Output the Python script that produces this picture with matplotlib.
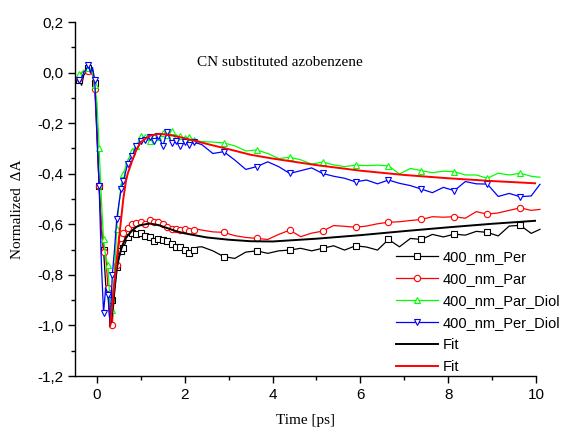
import matplotlib
matplotlib.use("Agg")
import matplotlib.pyplot as plt
from matplotlib.ticker import MultipleLocator, FuncFormatter

plt.rcParams['font.family'] = ['Liberation Sans', 'DejaVu Sans']

# time axis (ps): fine sampling round time zero, coarse afterwards
t_early = [-0.43, -0.40, -0.35, -0.30, -0.25, -0.20, -0.15, -0.10, -0.05, 0.00,
           0.05, 0.10, 0.15, 0.20, 0.25, 0.30, 0.35, 0.40, 0.45, 0.50, 0.55, 0.60,
           0.70, 0.80, 0.90, 1.00, 1.10, 1.20, 1.30, 1.40, 1.50, 1.60, 1.70, 1.80,
           1.90, 2.00, 2.10, 2.20, 2.30]
t_late = [2.39, 2.64, 2.89, 3.14, 3.39, 3.64, 3.89, 4.14, 4.39, 4.64, 4.89, 5.14,
          5.39, 5.64, 5.89, 6.14, 6.39, 6.64, 6.89, 7.14, 7.39, 7.64, 7.89, 8.14,
          8.39, 8.64, 8.89, 9.14, 9.39, 9.64, 9.89, 10.09]
t = t_early + t_late

per = [-0.02, -0.03, -0.05, -0.01, 0.00, 0.02, 0.00, 0.01, -0.04, -0.22,
       -0.45, -0.62, -0.70, -0.84, -0.86, -1.00, -0.90, -0.82, -0.77, -0.735, -0.705, -0.695,
       -0.650, -0.636, -0.640, -0.633, -0.645, -0.652, -0.668, -0.660, -0.662, -0.668, -0.678, -0.690,
       -0.688, -0.700, -0.715, -0.700, -0.690,
       -0.689, -0.705, -0.728, -0.735, -0.710, -0.705, -0.715, -0.705, -0.702, -0.695, -0.705, -0.695,
       -0.685, -0.702, -0.685, -0.690, -0.702, -0.660, -0.689, -0.656, -0.660, -0.640, -0.650, -0.639,
       -0.643, -0.628, -0.632, -0.646, -0.607, -0.604, -0.636, -0.620]
par = [-0.03, -0.02, 0.00, 0.005, 0.01, 0.005, 0.00, -0.01, -0.065, -0.25,
       -0.45, -0.60, -0.71, -0.72, -0.85, -0.97, -1.00, -0.86, -0.76, -0.68, -0.655, -0.635,
       -0.615, -0.600, -0.596, -0.590, -0.600, -0.585, -0.590, -0.590, -0.600, -0.612, -0.618, -0.620,
       -0.623, -0.620, -0.625, -0.623, -0.620,
       -0.623, -0.630, -0.632, -0.645, -0.652, -0.656, -0.660, -0.640, -0.623, -0.649, -0.635, -0.627,
       -0.605, -0.608, -0.612, -0.607, -0.598, -0.592, -0.590, -0.585, -0.581, -0.570, -0.572, -0.570,
       -0.576, -0.550, -0.560, -0.555, -0.545, -0.535, -0.545, -0.541]
par_diol = [-0.01, -0.005, 0.00, 0.01, 0.005, 0.02, 0.01, 0.00, -0.05, -0.12,
            -0.30, -0.50, -0.66, -0.73, -0.76, -0.92, -0.94, -0.80, -0.62, -0.52, -0.45, -0.40,
            -0.350, -0.310, -0.290, -0.250, -0.255, -0.270, -0.250, -0.255, -0.240, -0.245, -0.232, -0.255,
            -0.250, -0.260, -0.255, -0.265, -0.270,
            -0.273, -0.275, -0.278, -0.290, -0.310, -0.306, -0.320, -0.340, -0.335, -0.345, -0.362, -0.354,
            -0.365, -0.372, -0.366, -0.368, -0.366, -0.369, -0.401, -0.379, -0.388, -0.396, -0.390, -0.392,
            -0.405, -0.405, -0.418, -0.398, -0.405, -0.398, -0.410, -0.414]
per_diol = [-0.02, -0.03, -0.02, 0.00, 0.01, 0.03, 0.00, 0.02, -0.03, -0.25,
            -0.45, -0.75, -0.95, -0.85, -0.88, -1.00, -0.80, -0.70, -0.58, -0.52, -0.46, -0.43,
            -0.360, -0.330, -0.290, -0.270, -0.265, -0.255, -0.270, -0.250, -0.290, -0.235, -0.280, -0.270,
            -0.290, -0.275, -0.285, -0.275, -0.280,
            -0.285, -0.320, -0.313, -0.346, -0.383, -0.372, -0.353, -0.372, -0.399, -0.388, -0.377, -0.399,
            -0.410, -0.418, -0.432, -0.425, -0.440, -0.425, -0.438, -0.447, -0.461, -0.475, -0.454, -0.467,
            -0.431, -0.440, -0.441, -0.490, -0.478, -0.491, -0.488, -0.442]

# fitted curves
t_fit = [0.30, 0.35, 0.40, 0.45, 0.50, 0.55, 0.60, 0.66, 0.70, 0.80, 0.90, 1.00, 1.20,
         1.40, 1.60, 1.80, 2.00, 2.50, 3.00, 3.50, 4.00, 5.00, 6.00, 7.00, 8.00, 9.00, 10.00]
fit_per = [-1.00, -0.95, -0.86, -0.78, -0.73, -0.70, -0.675, -0.655, -0.645, -0.625, -0.610,
           -0.603, -0.597, -0.603, -0.615, -0.627, -0.636, -0.652, -0.661, -0.667, -0.668,
           -0.657, -0.643, -0.627, -0.612, -0.598, -0.586]
fit_diol = [-1.00, -0.92, -0.83, -0.74, -0.66, -0.58, -0.50, -0.43, -0.40, -0.35, -0.305,
            -0.275, -0.250, -0.243, -0.245, -0.252, -0.260, -0.282, -0.303, -0.325, -0.340,
            -0.366, -0.388, -0.405, -0.418, -0.429, -0.438]

marks = [1, 5, 8, 10, 12, 14, 16, 18, 20, 21, 22, 23, 24, 25, 26, 27, 28, 29, 30, 31, 32,
         33, 34, 35, 36, 37, 41, 44, 47, 50, 53, 56, 59, 62, 65, 68]

fig = plt.figure(figsize=(5.65, 4.28), dpi=100)
ax = fig.add_axes([75/565, 1-376/428, 461/565, 354/428])

style = dict(lw=0.9, ms=4.5, mew=0.8, mfc='white', markevery=marks, clip_on=False)
ax.plot(t, per, color='black', marker='s', label='400_nm_Per', **style)
ax.plot(t, par, color='#ff0000', marker='o', label='400_nm_Par', **style)
ax.plot(t, par_diol, color='#00ff00', marker='^', label='400_nm_Par_Diol', **style)
ax.plot(t, per_diol, color='#0000ff', marker='v', label='400_nm_Per_Diol', **style)
ax.plot(t_fit, fit_per, color='black', lw=1.4, label='Fit')
ax.plot(t_fit, fit_diol, color='#ff0000', lw=1.4, label='Fit')

ax.set_xlim(-0.5, 10)
ax.set_ylim(-1.2, 0.2)
ax.spines['top'].set_visible(False)
ax.spines['right'].set_visible(False)
for s in ('left', 'bottom'):
    ax.spines[s].set_linewidth(1.0)
ax.xaxis.set_major_locator(MultipleLocator(2))
ax.xaxis.set_minor_locator(MultipleLocator(1))
ax.yaxis.set_major_locator(MultipleLocator(0.2))
ax.yaxis.set_minor_locator(MultipleLocator(0.1))
ax.yaxis.set_major_formatter(FuncFormatter(lambda v, p: ('%.1f' % v).replace('.', ',').replace('-0,0', '0,0')))
ax.tick_params(which='major', direction='out', length=5, width=1.0, labelsize=11)
ax.tick_params(which='minor', direction='out', length=3, width=1.0)

ax.set_xlabel('Time [ps]', family='Liberation Serif', fontsize=11, labelpad=9)
fig.text(18/565, 1-209/428, 'Normalized  ΔA', family='Liberation Serif', fontsize=11,
         rotation=90, ha='center', va='center')
fig.text(280/565, 1-63/428, 'CN substituted azobenzene', family='Liberation Serif', fontsize=11,
         ha='center', va='center')

ax.legend(loc='upper left', bbox_to_anchor=(396/565, 1-250/428), bbox_transform=fig.transFigure,
          frameon=False, fontsize=10.5, handlelength=2.9, handletextpad=0.3, labelspacing=0.55,
          borderpad=0, borderaxespad=0)

fig.savefig('out.png', dpi=100)
